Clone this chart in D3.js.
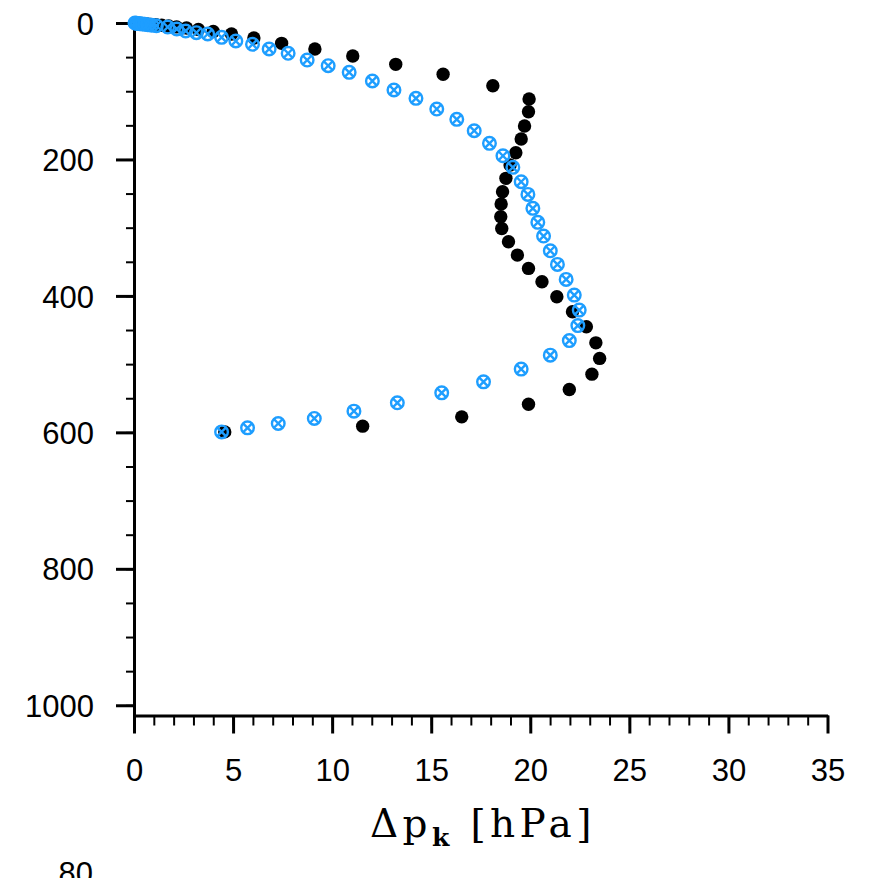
<!DOCTYPE html>
<html>
<head>
<meta charset="utf-8">
<script src="https://cdn.jsdelivr.net/npm/d3@7"></script>
<style>
  body { margin: 0; background: #fff; }
  svg { display: block; }
  .tick-label { font-family: 'Liberation Sans', Arial, sans-serif; font-size: 31px; fill: #000; }
  .title { font-family: 'DejaVu Serif', serif; font-size: 39px; letter-spacing: 4.4px; fill: #000; }
</style>
</head>
<body>
<div id="chart"></div>
<script>
/* global d3 */

// series 1 (filled black dots): delta p_k [hPa] and pressure [hPa]
const blackDp = [0.15, 0.25, 0.35, 0.5, 0.65, 0.85, 1.1, 1.4, 1.75, 2.15, 2.65, 3.25, 4.0,
  4.92, 6.05, 7.45, 9.13, 11.04, 13.21, 15.6, 18.11, 19.94, 19.91, 19.71, 19.54, 19.27, 18.98,
  18.77, 18.6, 18.53, 18.51, 18.56, 18.9, 19.35, 19.91, 20.59, 21.34, 22.13, 22.83, 23.31,
  23.5, 23.11, 21.97, 19.91, 16.54, 11.54, 4.58];
const blackP = [0.3, 0.5, 0.8, 1.1, 1.5, 2.0, 2.6, 3.4, 4.4, 5.7, 7.4, 9.6, 12.5,
  16.1, 22, 29.8, 38.1, 48.4, 60.6, 75.2, 91.9, 111.4, 130.1, 151, 170, 190.2, 208.2,
  227.7, 247.4, 265.4, 284, 301.3, 320.7, 340.2, 359.7, 379.3, 401.3, 423.3, 445.3, 468.8,
  491.6, 514.7, 537.1, 558.7, 577.3, 590.9, 599.3];

// series 2 (blue circle with cross)
const blueDp = [0.05, 0.12, 0.2, 0.3, 0.42, 0.55, 0.7, 0.9, 1.13, 1.7, 2.16, 2.61, 3.15, 3.72,
  4.42, 5.14, 5.98, 6.82, 7.78, 8.74, 9.8, 10.86, 12.03, 13.12, 14.23, 15.28, 16.29, 17.17,
  17.94, 18.62, 19.12, 19.54, 19.88, 20.13, 20.38, 20.67, 21.01, 21.37, 21.81, 22.22, 22.47,
  22.4, 21.97, 21.01, 19.54, 17.64, 15.53, 13.29, 11.1, 9.1, 7.28, 5.73, 4.42];
const blueP = [0.1, 0.3, 0.6, 1.0, 1.4, 1.9, 2.5, 3.2, 4.0, 5.9, 8.8, 11.7, 14.2, 16.1,
  21, 26.4, 31.2, 38.1, 44.4, 54.3, 62.6, 72.3, 85, 98.2, 110.4, 126.1, 141.2, 157.9,
  176.4, 194.6, 211.6, 232.7, 251.2, 271.7, 292.2, 312.3, 333.9, 353.8, 375.8, 398.8, 420.8,
  443.5, 465.5, 486.8, 507.3, 526, 542.1, 556.7, 568.9, 579.6, 587, 593.4, 599.3];

const xTicks = [0, 5, 10, 15, 20, 25, 30, 35];
const yTicks = [0, 200, 400, 600, 800, 1000];
const xTitle = { main: 'Δp', sub: 'k', tail: ' [hPa]' };

const width = 875;
const height = 878;
const plotLeft = 134;
const plotTop = 23;
const plotRight = 827.5;
const plotBottom = 715.5;

const $svg = d3.select('#chart').append('svg')
  .attr('width', width)
  .attr('height', height);

const x = d3.scaleLinear().domain([0, 35]).range([plotLeft, plotRight]);
const y = d3.scaleLinear().domain([0, 1015]).range([plotTop, plotBottom]);

// minor ticks first so the majors sit on top
$svg.append('g')
  .attr('transform', `translate(0,${plotBottom})`)
  .call(d3.axisBottom(x).tickValues(d3.range(0, 36, 1)).tickSize(10).tickFormat('').tickSizeOuter(0))
  .call(g => g.select('.domain').remove())
  .call(g => g.selectAll('line').attr('stroke-width', 2));

$svg.append('g')
  .attr('transform', `translate(${plotLeft},0)`)
  .call(d3.axisLeft(y).tickValues(d3.range(0, 1001, 50)).tickSize(8).tickFormat('').tickSizeOuter(0))
  .call(g => g.select('.domain').remove())
  .call(g => g.selectAll('line').attr('stroke-width', 2));

// major axes
const $xAxis = $svg.append('g')
  .attr('transform', `translate(0,${plotBottom})`)
  .call(d3.axisBottom(x).tickValues(xTicks).tickFormat(d3.format('d'))
    .tickSize(18).tickPadding(25).tickSizeOuter(0));

const $yAxis = $svg.append('g')
  .attr('transform', `translate(${plotLeft},0)`)
  .call(d3.axisLeft(y).tickValues(yTicks).tickFormat(d3.format('d'))
    .tickSize(18).tickPadding(22).tickSizeOuter(0));

[$xAxis, $yAxis].forEach($a => {
  $a.attr('font-family', null).attr('font-size', null);
  $a.select('.domain').attr('stroke-width', 3).attr('stroke', '#000');
  $a.selectAll('.tick line').attr('stroke-width', 3).attr('stroke', '#000');
  $a.selectAll('.tick text').attr('class', 'tick-label');
});
$yAxis.selectAll('.tick text').attr('dy', '0.36em');
$xAxis.selectAll('.tick text').attr('dy', '0.71em');

// markers
const black = blackDp.map((d, i) => ({ dp: d, p: blackP[i] }));
const blue = blueDp.map((d, i) => ({ dp: d, p: blueP[i] }));

$svg.append('g')
  .selectAll('circle')
  .data(black)
  .join('circle')
  .attr('cx', d => x(d.dp))
  .attr('cy', d => y(d.p))
  .attr('r', 6.7)
  .attr('fill', '#000');

const r = 6.3;
const k = r * 0.72;
const $blue = $svg.append('g')
  .attr('fill', 'none')
  .attr('stroke', '#1e9eff')
  .attr('stroke-width', 2.4)
  .selectAll('g')
  .data(blue)
  .join('g')
  .attr('transform', d => `translate(${x(d.dp)},${y(d.p)})`);

$blue.append('circle').attr('r', r);
$blue.append('path').attr('d', `M${-k},${-k}L${k},${k}M${-k},${k}L${k},${-k}`);

// x title
const $title = $svg.append('text')
  .attr('class', 'title')
  .attr('x', 370)
  .attr('y', 837);
$title.append('tspan').text(xTitle.main);
$title.append('tspan').attr('dy', 9).attr('font-size', 25).attr('font-weight', 'bold').text(xTitle.sub);
$title.append('tspan').attr('dy', -9).text(xTitle.tail);

// tick label of the panel below, cut by the page edge
$svg.append('text')
  .attr('class', 'tick-label')
  .attr('x', 93)
  .attr('y', 884)
  .attr('text-anchor', 'end')
  .text('80');
</script>
</body>
</html>
